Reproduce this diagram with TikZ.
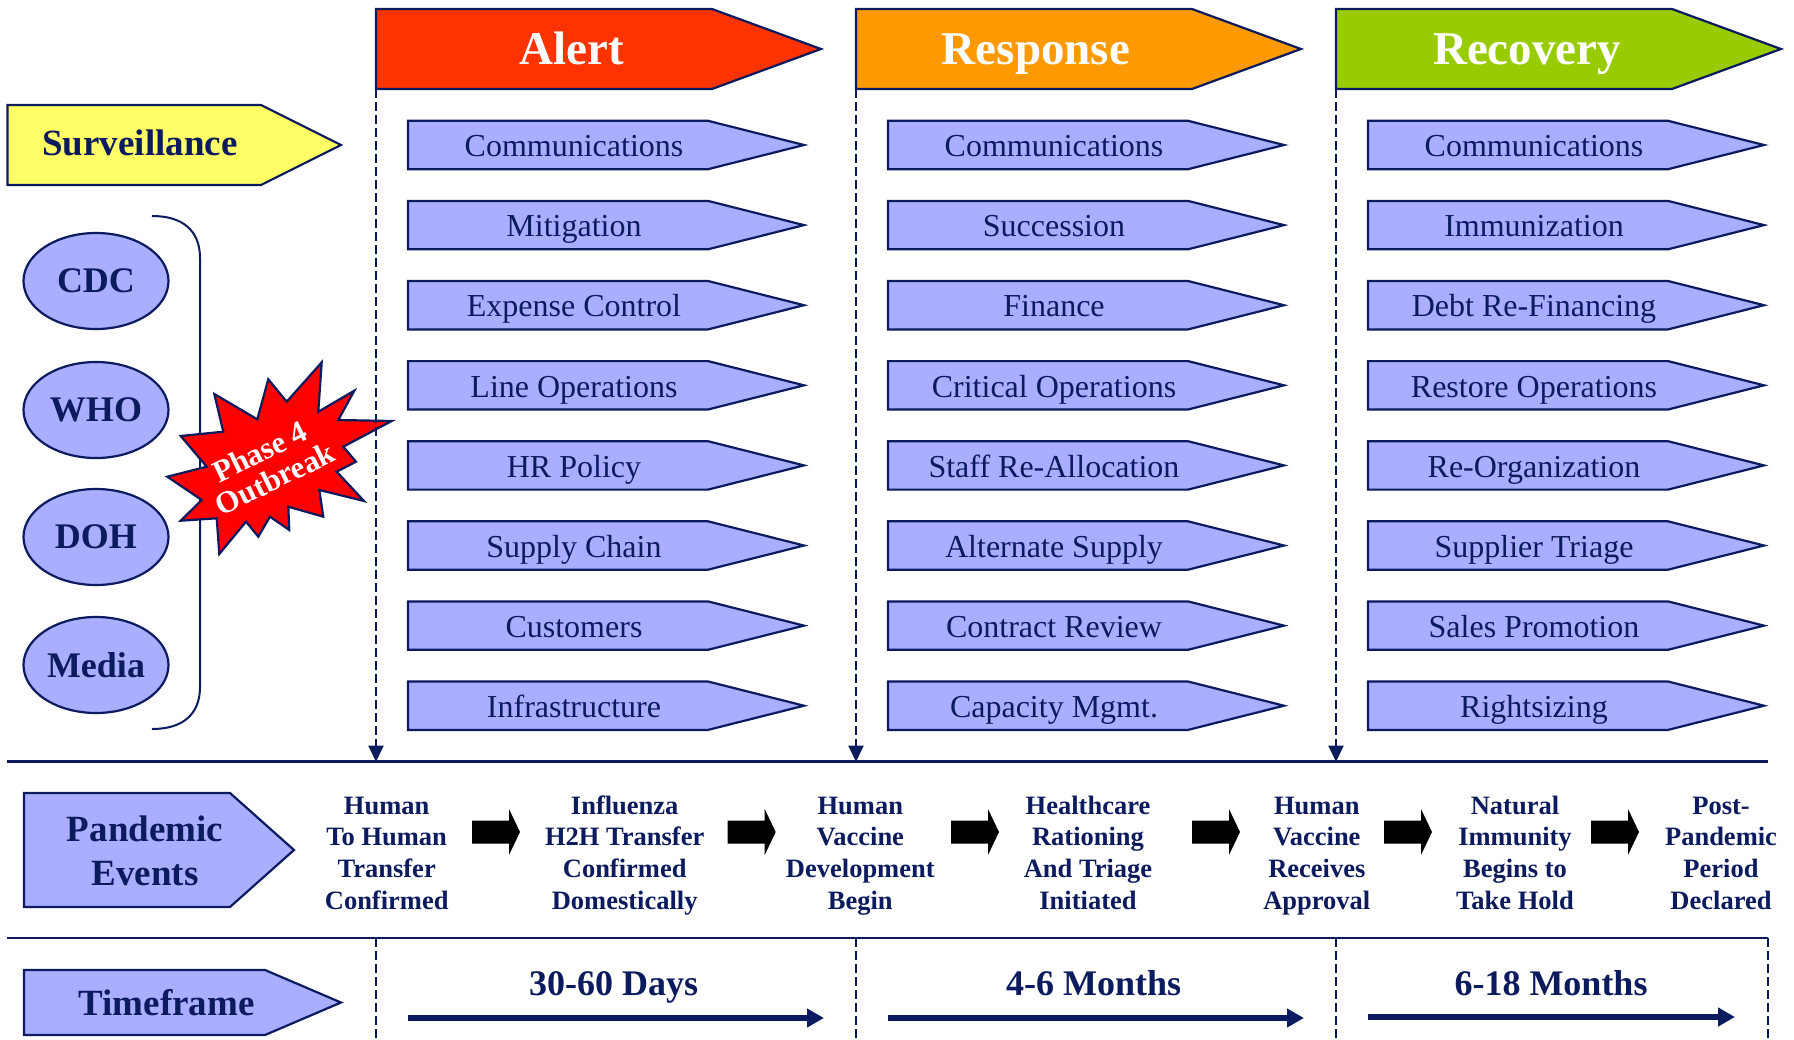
\documentclass[tikz,border=0pt]{standalone}
\usepackage{fontspec}
\setmainfont{Liberation Serif}
\usetikzlibrary{arrows.meta,shapes.geometric}

\definecolor{navy}{HTML}{0C1A5E}
\definecolor{lavender}{HTML}{AAAEFF}
\definecolor{alertred}{HTML}{FF3300}
\definecolor{resporange}{HTML}{FF9900}
\definecolor{recgreen}{HTML}{99CC00}
\definecolor{survyellow}{HTML}{FFFF66}
\definecolor{burstred}{HTML}{FF0000}

% pointed tag: left x, end of straight part, tip x, top y, bottom y, style
\newcommand{\tagshape}[6]{%
  \draw[#6] (#1,#4) -- (#2,#4) -- (#3,{(#4+#5)/2}) -- (#2,#5) -- (#1,#5) -- cycle;}
% black block arrow centred on x
\newcommand{\blockarrow}[1]{%
  \fill[black] (#1-24,820.5) -- (#1+13,820.5) -- (#1+13,809) -- (#1+24,832)
    -- (#1+13,855) -- (#1+13,843.5) -- (#1-24,843.5) -- cycle;}

\begin{document}
\begin{tikzpicture}[x=1pt,y=-1pt,
  outline/.style={draw=navy, line width=2.2pt, line join=miter},
  taskbox/.style={outline, fill=lavender},
  tasktext/.style={font=\fontsize{32}{38}\selectfont, text=navy, anchor=base, inner sep=0pt},
  bannertext/.style={font=\fontsize{47}{56}\selectfont\bfseries, text=white, anchor=base, inner sep=0pt},
  headtext/.style={font=\fontsize{37}{44}\selectfont\bfseries, text=navy, anchor=base, inner sep=0pt},
  agency/.style={ellipse, outline, fill=lavender, minimum width=145pt, minimum height=96pt,
    inner sep=0pt, font=\fontsize{36}{42}\selectfont\bfseries, text=navy},
  eventtext/.style={font=\fontsize{26.5}{31.8}\selectfont\bfseries, text=navy, anchor=north, inner sep=0pt},
  spantext/.style={font=\fontsize{36}{42}\selectfont\bfseries, text=navy, anchor=base, inner sep=0pt},
  bursttext/.style={font=\fontsize{31}{31}\selectfont\bfseries, text=white, inner sep=0pt, rotate=26},
  phaseline/.style={draw=navy, line width=2pt, dash pattern=on 9pt off 4pt,
    -{Triangle[length=16pt,width=15pt]}},
  lowdash/.style={draw=navy, line width=2pt, dash pattern=on 9pt off 4pt},
  rule/.style={draw=navy, line width=2.5pt},
  spanarrow/.style={draw=navy, line width=6pt, -{Triangle[length=17pt,width=18pt]}}]

\useasboundingbox (0,0) rectangle (1794,1039);
\fill[white] (0,0) rectangle (1794,1039);

% phase banners
\tagshape{376}{712}{821}{9}{89}{outline, fill=alertred}
\node[bannertext] (alert) at (572,64) {Alert};
\tagshape{856}{1192}{1301}{9}{89}{outline, fill=resporange}
\node[bannertext] (response) at (1036,64) {Response};
\tagshape{1336}{1672}{1781}{9}{89}{outline, fill=recgreen}
\node[bannertext] (recovery) at (1527,64) {Recovery};

% surveillance tag
\tagshape{7.5}{261}{341}{105}{185}{outline, fill=survyellow}
\node[headtext] (surveillance) at (140,155) {Surveillance};

% task boxes of each phase
\def\xo{376}
\foreach \i/\t in {0/Communications, 1/Mitigation, 2/Expense Control, 3/Line Operations,
    4/HR Policy, 5/Supply Chain, 6/Customers, 7/Infrastructure}{
  \pgfmathsetmacro\cy{145+80.1*\i}
  \tagshape{\xo+32}{\xo+332}{\xo+428}{\cy-24.2}{\cy+24.2}{taskbox}
  \node[tasktext] (alert-\i) at (\xo+198,\cy+11.7) {\t};
}
\def\xo{856}
\foreach \i/\t in {0/Communications, 1/Succession, 2/Finance, 3/Critical Operations,
    4/Staff Re-Allocation, 5/Alternate Supply, 6/Contract Review, 7/Capacity Mgmt.}{
  \pgfmathsetmacro\cy{145+80.1*\i}
  \tagshape{\xo+32}{\xo+332}{\xo+428}{\cy-24.2}{\cy+24.2}{taskbox}
  \node[tasktext] (response-\i) at (\xo+198,\cy+11.7) {\t};
}
\def\xo{1336}
\foreach \i/\t in {0/Communications, 1/Immunization, 2/Debt Re-Financing, 3/Restore Operations,
    4/Re-Organization, 5/Supplier Triage, 6/Sales Promotion, 7/Rightsizing}{
  \pgfmathsetmacro\cy{145+80.1*\i}
  \tagshape{\xo+32}{\xo+332}{\xo+428}{\cy-24.2}{\cy+24.2}{taskbox}
  \node[tasktext] (recovery-\i) at (\xo+198,\cy+11.7) {\t};
}

% agencies and their bracket
\node[agency] (cdc) at (96,281) {CDC};
\node[agency] (who) at (96,410) {WHO};
\node[agency] (doh) at (96,537) {DOH};
\node[agency] (media) at (96,665) {Media};
\coordinate (brace-top) at (152,216);
\coordinate (brace-bot) at (152,729);
\draw[navy, line width=2pt] (brace-top) .. controls (182,216) and (200,230) .. (200,258)
  -- (200,687) .. controls (200,715) and (182,729) .. (brace-bot);

% outbreak starburst
\draw[outline, fill=burstred, line join=miter]
  (321.7,362.3) -- (318.3,411.7) -- (354.3,390.7) -- (338.3,420) -- (391.7,421)
  -- (343.3,446.7) -- (356,461.7) -- (336.7,471.7) -- (364,501) -- (319.3,490)
  -- (323.3,516.7) -- (288.3,506.7) -- (289.3,530) -- (270,516.7) -- (258.3,536.7)
  -- (246,521.7) -- (219.3,554) -- (216.7,518.3) -- (180.7,520.7) -- (201.7,500)
  -- (167.3,476.7) -- (206.7,466.7) -- (180.7,436) -- (223.3,431.7) -- (214.3,394)
  -- (257.3,419.3) -- (268.3,379.3) -- (286.7,401.7) -- cycle;
\node[bursttext] (burst-a) at (260,451.5) {Phase 4};
\node[bursttext] (burst-b) at (275,478.5) {Outbreak};

% rules across the page
\coordinate (rule-a-w) at (7,761.7);
\coordinate (rule-a-e) at (1768,761.7);
\coordinate (rule-b-w) at (7,938);
\coordinate (rule-b-e) at (1768,938);
\draw[rule] (rule-a-w) -- (rule-a-e);
\draw[rule] (rule-b-w) -- (rule-b-e);

% phase start markers
\foreach \n/\x in {alert/376, response/856, recovery/1336}{
  \coordinate (\n-foot) at (\x,89);
  \coordinate (\n-mark) at (\x,761.7);
  \coordinate (\n-low) at (\x,938);
  \coordinate (\n-end) at (\x,1039);
  \draw[phaseline] (\n-foot) -- (\n-mark);
  \draw[lowdash] (\n-low) -- (\n-end);
}
\coordinate (close-low) at (1768,938);
\coordinate (close-end) at (1768,1039);
\draw[lowdash] (close-low) -- (close-end);

% pandemic events row
\tagshape{24}{230}{294}{793}{907}{outline, fill=lavender}
\node[font=\fontsize{37}{44}\selectfont\bfseries, text=navy, anchor=north, inner sep=0pt]
  (pandemic) at (145,810.2) {\begin{tabular}{@{}c@{}}Pandemic\\Events\end{tabular}};
\node[eventtext] (ev1) at (386.7,791.7) {\begin{tabular}{@{}c@{}}Human\\To Human\\Transfer\\Confirmed\end{tabular}};
\node[eventtext] (ev2) at (624.7,791.7) {\begin{tabular}{@{}c@{}}Influenza\\H2H Transfer\\Confirmed\\Domestically\end{tabular}};
\node[eventtext] (ev3) at (860.3,791.7) {\begin{tabular}{@{}c@{}}Human\\Vaccine\\Development\\Begin\end{tabular}};
\node[eventtext] (ev4) at (1088,791.7) {\begin{tabular}{@{}c@{}}Healthcare\\Rationing\\And Triage\\Initiated\end{tabular}};
\node[eventtext] (ev5) at (1316.8,791.7) {\begin{tabular}{@{}c@{}}Human\\Vaccine\\Receives\\Approval\end{tabular}};
\node[eventtext] (ev6) at (1515,791.7) {\begin{tabular}{@{}c@{}}Natural\\Immunity\\Begins to\\Take Hold\end{tabular}};
\node[eventtext] (ev7) at (1721,791.7) {\begin{tabular}{@{}c@{}}Post-\\Pandemic\\Period\\Declared\end{tabular}};
\blockarrow{496}
\blockarrow{751.7}
\blockarrow{975}
\blockarrow{1216}
\blockarrow{1408}
\blockarrow{1615}

% timeframe row
\tagshape{24}{265}{341}{970}{1035}{outline, fill=lavender}
\node[headtext] (timeframe) at (166.5,1015) {Timeframe};
\node[spantext] (span1) at (613.6,995) {30-60 Days};
\node[spantext] (span2) at (1093.6,995) {4-6 Months};
\node[spantext] (span3) at (1551,995) {6-18 Months};
\coordinate (span1-w) at (408,1018);
\coordinate (span1-e) at (824,1018);
\coordinate (span2-w) at (888,1018);
\coordinate (span2-e) at (1304,1018);
\coordinate (span3-w) at (1368,1017);
\coordinate (span3-e) at (1735,1017);
\draw[spanarrow] (span1-w) -- (span1-e);
\draw[spanarrow] (span2-w) -- (span2-e);
\draw[spanarrow] (span3-w) -- (span3-e);

\end{tikzpicture}
\end{document}
